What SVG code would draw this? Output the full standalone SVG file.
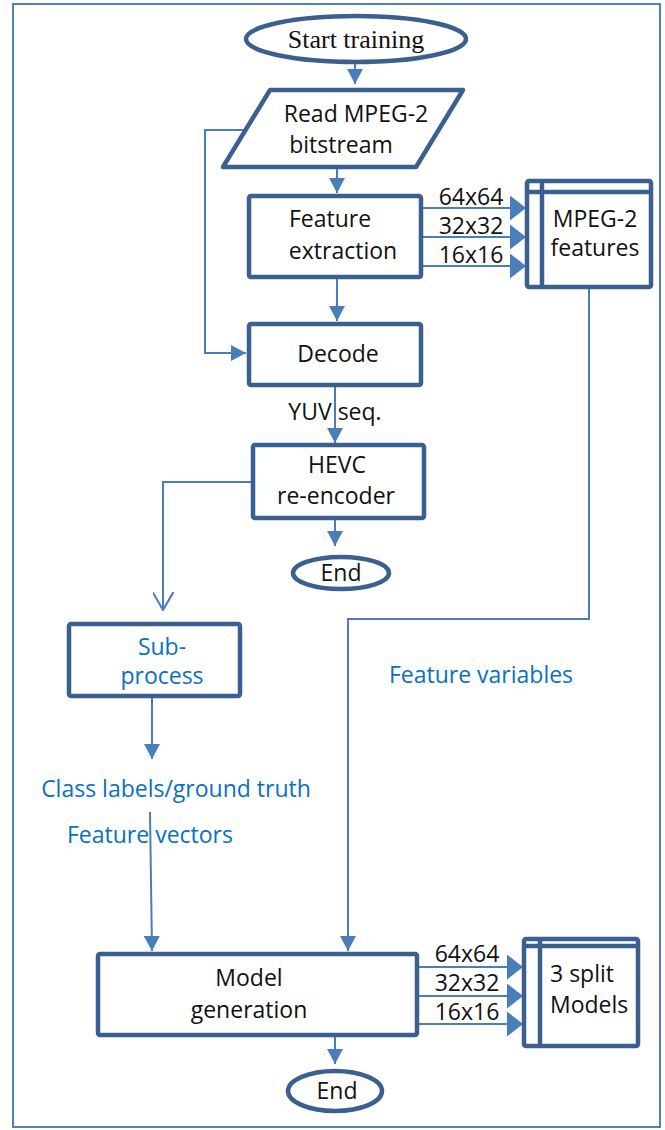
<svg xmlns="http://www.w3.org/2000/svg" width="665" height="1130" viewBox="0 0 665 1130">
<style>
.node{fill:#fff;stroke:#3B6090;stroke-width:4.5;stroke-linejoin:round}
.inner{stroke:#3B6090;stroke-width:4.5;fill:none}
.t{font-family:"Open Sans","Liberation Sans",sans-serif;font-size:23px;fill:#111;text-anchor:middle}
.b{fill:#0A70C0}
.s{font-family:"Liberation Serif","Times New Roman",serif;font-size:26px;fill:#111;text-anchor:middle}
.c{fill:none;stroke:#4A7EBB;stroke-width:2}
</style>
<defs>
<marker id="ah" viewBox="0 0 10 10" refX="10" refY="5" markerWidth="15" markerHeight="16" markerUnits="userSpaceOnUse" orient="auto" preserveAspectRatio="none"><path d="M0,0 L10,5 L0,10 z" fill="#4A7EBB"/></marker>
<marker id="big" viewBox="0 0 10 10" refX="10" refY="5" markerWidth="16" markerHeight="25" markerUnits="userSpaceOnUse" orient="auto" preserveAspectRatio="none"><path d="M0,0 L10,5 L0,10 z" fill="#4A7EBB"/></marker>
<marker id="open" viewBox="0 0 20 20" refX="19" refY="10" markerWidth="19" markerHeight="21" markerUnits="userSpaceOnUse" orient="auto" preserveAspectRatio="none"><path d="M0,0 L19,10 L0,20" fill="none" stroke="#4A7EBB" stroke-width="2"/></marker>
</defs>
<rect width="665" height="1130" fill="#fff"/>
<rect id="frame" x="13" y="4" width="647" height="1123" fill="none" stroke="#4F81BD" stroke-width="2"/>

<g id="connectors">
<path class="c" d="M355,63 V84" marker-end="url(#ah)"/>
<path class="c" d="M337,167 V193" marker-end="url(#ah)"/>
<path class="c" d="M421,208 H526" marker-end="url(#big)"/>
<path class="c" d="M421,237 H526" marker-end="url(#big)"/>
<path class="c" d="M421,266 H526" marker-end="url(#big)"/>
<path class="c" d="M244,130 H205 V353 H246" marker-end="url(#ah)"/>
<path class="c" d="M337,278 V321" marker-end="url(#ah)"/>
<path class="c" d="M335,386 V443" marker-end="url(#ah)"/>
<path class="c" d="M335,519 V546" marker-end="url(#ah)"/>
<path class="c" d="M252,482 H163 V610" marker-end="url(#open)"/>
<path class="c" d="M152,697 V759" marker-end="url(#ah)"/>
<path class="c" d="M150,812 L152,951" marker-end="url(#ah)"/>
<path class="c" d="M589,288 V619 H348 V951" marker-end="url(#ah)"/>
<path class="c" d="M417,967 H523" marker-end="url(#big)"/>
<path class="c" d="M417,996 H523" marker-end="url(#big)"/>
<path class="c" d="M417,1024 H523" marker-end="url(#big)"/>
<path class="c" d="M335,1036 V1064" marker-end="url(#ah)"/>
</g>

<g id="start">
<ellipse class="node" cx="356" cy="39" rx="110" ry="23"/>
<text class="s" x="356" y="48">Start training</text>
</g>
<g id="read">
<polygon class="node" points="270,90 463,90 416,167 223,167"/>
<text class="t" x="356" y="122">Read MPEG-2</text>
<text class="t" x="341" y="153">bitstream</text>
</g>
<g id="feature">
<rect class="node" x="249" y="196" width="172" height="81" rx="2"/>
<text class="t" x="330" y="227">Feature</text>
<text class="t" x="343" y="259">extraction</text>
</g>
<g id="sizes1">
<text class="t" x="471" y="205">64x64</text>
<text class="t" x="471" y="234">32x32</text>
<text class="t" x="471" y="263">16x16</text>
</g>
<g id="mpeg">
<rect class="node" x="527" y="181" width="124" height="106" rx="2"/>
<line class="inner" x1="527" y1="192" x2="651" y2="192"/>
<line class="inner" x1="542" y1="181" x2="542" y2="287"/>
<text class="t" x="595" y="227">MPEG-2</text>
<text class="t" x="595" y="256">features</text>
</g>
<g id="decode">
<rect class="node" x="249" y="324" width="172" height="61" rx="2"/>
<text class="t" x="338" y="362">Decode</text>
</g>
<g id="yuv">
<text class="t" x="335" y="420">YUV seq.</text>
</g>
<g id="hevc">
<rect class="node" x="253" y="445" width="171" height="73" rx="2"/>
<text class="t" x="337" y="473">HEVC</text>
<text class="t" x="336" y="504">re-encoder</text>
</g>
<g id="end1">
<ellipse class="node" cx="341" cy="573" rx="48" ry="16"/>
<text class="t" x="341" y="581">End</text>
</g>
<g id="subprocess">
<rect class="node" x="69" y="624" width="171" height="72" rx="2"/>
<text class="t b" x="162" y="655">Sub-</text>
<text class="t b" x="162" y="684">process</text>
</g>
<g id="featvars">
<text class="t b" x="481" y="683">Feature variables</text>
</g>
<g id="classlabels">
<text class="t b" x="176" y="797">Class labels/ground truth</text>
</g>
<g id="featvec">
<text class="t b" x="150" y="843">Feature vectors</text>
</g>
<g id="model">
<rect class="node" x="98" y="954" width="319" height="81" rx="2"/>
<text class="t" x="249" y="986">Model</text>
<text class="t" x="249" y="1018">generation</text>
</g>
<g id="sizes2">
<text class="t" x="467" y="962">64x64</text>
<text class="t" x="467" y="991">32x32</text>
<text class="t" x="467" y="1020">16x16</text>
</g>
<g id="splits">
<rect class="node" x="524" y="939" width="114" height="107" rx="2"/>
<line class="inner" x1="524" y1="946" x2="638" y2="946"/>
<line class="inner" x1="540" y1="939" x2="540" y2="1046"/>
<text class="t" x="550" y="982" style="text-anchor:start">3 split</text>
<text class="t" x="550" y="1013" style="text-anchor:start">Models</text>
</g>
<g id="end2">
<ellipse class="node" cx="335" cy="1091" rx="47" ry="20"/>
<text class="t" x="337" y="1099">End</text>
</g>
</svg>
